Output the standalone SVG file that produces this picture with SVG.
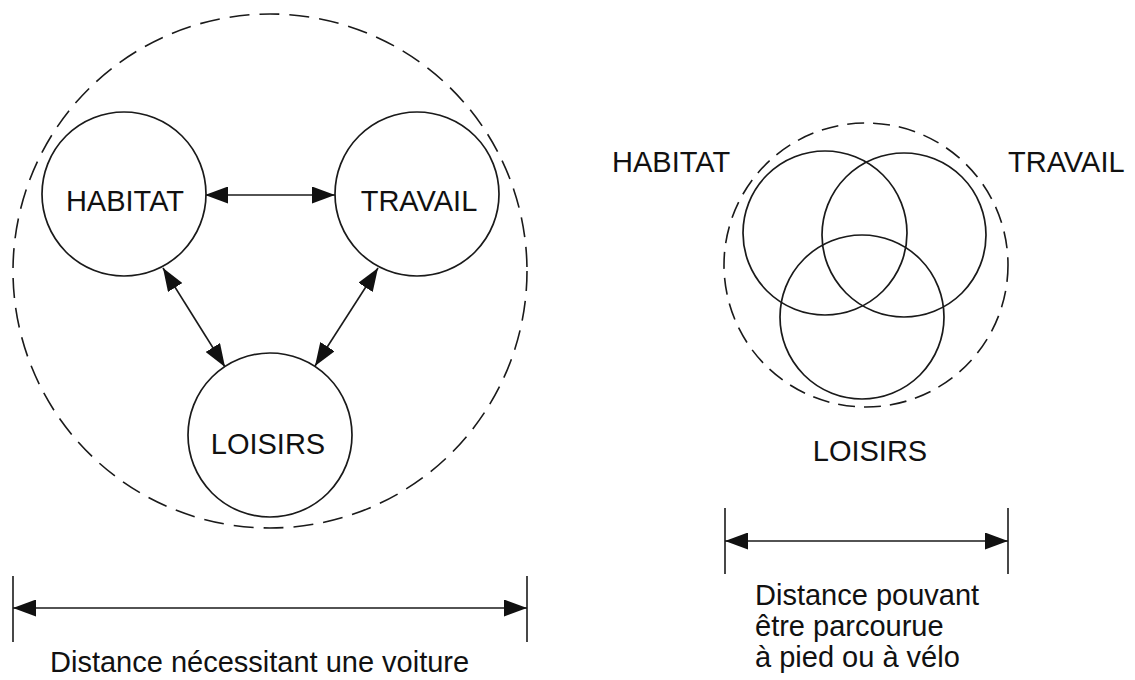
<svg xmlns="http://www.w3.org/2000/svg" width="1135" height="680" viewBox="0 0 1135 680">
<defs>
<style>
.node{fill:#fff;stroke:#1a1a1a;stroke-width:1.7}
.venn{fill:none;stroke:#1a1a1a;stroke-width:1.7}
.dash{fill:none;stroke:#1a1a1a;stroke-width:1.6}
.lbl{font-family:"Liberation Sans",Arial,sans-serif;font-size:29px;fill:#111}
.mid{text-anchor:middle}
.conn{stroke:#1a1a1a;stroke-width:1.6;fill:none;marker-start:url(#arr);marker-end:url(#arr)}
.tick{stroke:#1a1a1a;stroke-width:1.6}
</style>
<marker id="arr" markerUnits="userSpaceOnUse" markerWidth="23" markerHeight="17" refX="23" refY="8.5" orient="auto-start-reverse">
<path d="M0,0 L23,8.5 L0,17 z" fill="#111"/>
</marker>
</defs>
<rect width="1135" height="680" fill="#fff"/>

<g id="left-boundary">
<circle cx="270" cy="271" r="257" class="dash" stroke-dasharray="20 10"/>
</g>

<g id="connectors">
<line x1="205" y1="195" x2="335" y2="195" class="conn"/>
<line x1="163" y1="268" x2="225" y2="367" class="conn"/>
<line x1="378" y1="268" x2="315" y2="366" class="conn"/>
<line x1="13" y1="608" x2="527" y2="608" class="conn"/>
<line x1="725" y1="541" x2="1008" y2="541" class="conn"/>
</g>

<g id="habitat">
<circle cx="124" cy="194" r="82" class="node"/>
<text x="125" y="211" class="lbl mid">HABITAT</text>
</g>
<g id="travail">
<circle cx="417" cy="194" r="82" class="node"/>
<text x="419" y="211" class="lbl mid">TRAVAIL</text>
</g>
<g id="loisirs">
<circle cx="270" cy="435" r="82" class="node"/>
<text x="268" y="454" class="lbl mid">LOISIRS</text>
</g>

<g id="left-dimension">
<line x1="13" y1="576" x2="13" y2="642" class="tick"/>
<line x1="527" y1="576" x2="527" y2="642" class="tick"/>
<text x="50" y="672" class="lbl">Distance nécessitant une voiture</text>
</g>

<g id="right-venn">
<circle cx="866" cy="265" r="142" class="dash" stroke-dasharray="17 9"/>
<circle cx="825" cy="233" r="82" class="venn"/>
<circle cx="904" cy="235" r="82" class="venn"/>
<circle cx="862" cy="317" r="82" class="venn"/>
<text x="612" y="172" class="lbl">HABITAT</text>
<text x="1008" y="172" class="lbl">TRAVAIL</text>
<text x="870" y="461" class="lbl mid">LOISIRS</text>
</g>

<g id="right-dimension">
<line x1="725" y1="508" x2="725" y2="574" class="tick"/>
<line x1="1008" y1="508" x2="1008" y2="574" class="tick"/>
<text x="755" y="605" class="lbl">Distance pouvant</text>
<text x="755" y="636" class="lbl">être parcourue</text>
<text x="755" y="667" class="lbl">à pied ou à vélo</text>
</g>
</svg>
